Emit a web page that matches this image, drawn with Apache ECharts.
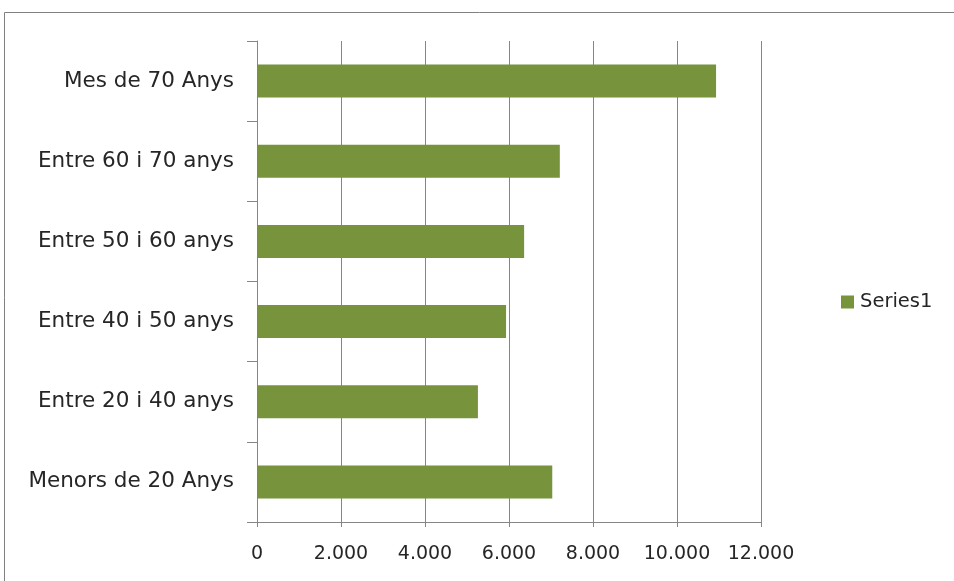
<!DOCTYPE html>
<html>
<head>
<meta charset="utf-8">
<script src="https://cdn.jsdelivr.net/npm/echarts@6/dist/echarts.min.js"></script>
<style>
html,body{margin:0;padding:0;background:#fff;}
#c{width:954px;height:581px;}
</style>
</head>
<body>
<div id="c"></div>
<script>
const categories = ["Menors de 20 Anys", "Entre 20 i 40 anys", "Entre 40 i 50 anys", "Entre 50 i 60 anys", "Entre 60 i 70 anys", "Mes de 70 Anys"];
const series1 = [7030, 5260, 5930, 6360, 7210, 10930];
const seriesName = "Series1";

const chart = echarts.init(document.getElementById('c'));
const font = '"DejaVu Sans", sans-serif';
chart.setOption({
  animation: false,
  textStyle: { fontFamily: font },
  graphic: [{
    type: 'rect',
    shape: { x: 4.5, y: 12.5, width: 1000, height: 1000 },
    style: { fill: 'none', stroke: '#808080', lineWidth: 1 },
    silent: true
  }],
  grid: { left: 257, right: 193, top: 41, bottom: 59, containLabel: false },
  legend: {
    data: [seriesName],
    left: 841, top: 292, padding: 0,
    icon: 'rect', itemWidth: 13, itemHeight: 13, itemGap: 5,
    textStyle: { fontFamily: font, fontSize: 19.5, color: '#262626', padding: [0, 0, 0, 1] }
  },
  xAxis: {
    type: 'value', min: 0, max: 12000, interval: 2000,
    axisLine: { show: true, lineStyle: { color: '#868686' } },
    axisTick: { show: true, length: 5, lineStyle: { color: '#868686' } },
    splitLine: { show: true, lineStyle: { color: '#868686' } },
    axisLabel: {
      fontFamily: font, fontSize: 19, color: '#262626', margin: 23,
      formatter: v => v.toLocaleString('de-DE')
    }
  },
  yAxis: {
    type: 'category', data: categories,
    axisLine: { show: true, lineStyle: { color: '#868686' } },
    axisTick: { show: true, length: 10, inside: false, lineStyle: { color: '#868686' } },
    splitLine: { show: false },
    axisLabel: { fontFamily: font, fontSize: 21.5, color: '#262626', margin: 23 }
  },
  series: [{
    name: seriesName, type: 'bar', data: series1,
    barWidth: 33,
    itemStyle: { color: '#77933c' }
  }]
});
</script>
</body>
</html>
